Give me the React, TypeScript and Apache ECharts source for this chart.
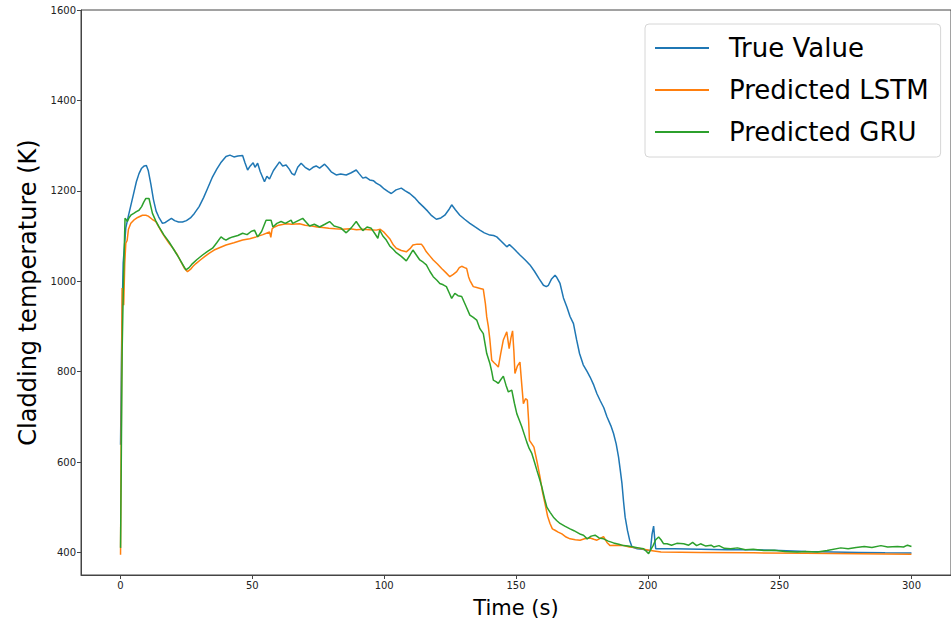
import React, { useEffect, useRef } from "react";
import * as echarts from "echarts";

// [time (s), temperature (K)]
const trueValue: [number, number][] = [
  [0, 638], [0.5, 900], [1, 1040], [2, 1118], [3, 1145], [4, 1170], [5, 1195], [6, 1220], [7, 1238], [8, 1250], [9, 1255], [9.8, 1256],
  [10.5, 1245], [11.5, 1215], [12.5, 1180], [13.5, 1155], [14.5, 1142], [15.9, 1128], [17, 1130], [18, 1134], [19.3, 1139], [20.5, 1134],
  [22, 1131], [23.5, 1131], [25, 1134], [26.5, 1140], [28, 1150], [29.8, 1165], [31.5, 1185], [33, 1205], [34.9, 1231], [36.5, 1248],
  [38, 1262], [40, 1276], [41.5, 1279], [43, 1275], [44.5, 1277], [46.3, 1278], [47.2, 1262], [48.2, 1246], [49.2, 1255], [50.3, 1262],
  [51, 1252], [52, 1261], [53, 1242], [54.6, 1220], [55.5, 1232], [56.5, 1226], [58, 1245], [60.3, 1264], [61.5, 1255], [62.8, 1257],
  [64, 1248], [65, 1238], [66, 1235], [67.2, 1252], [68.5, 1261], [70, 1252], [71.7, 1246], [73, 1252], [74.2, 1255], [75.5, 1250],
  [77.4, 1259], [78.5, 1252], [79.9, 1242], [81.8, 1235], [83.5, 1237], [85.6, 1235], [87.5, 1240], [89.4, 1246], [90.5, 1238],
  [91.9, 1228], [93, 1230], [94.5, 1224], [96, 1222], [97, 1217], [98.5, 1212], [100, 1204], [101.5, 1198], [102.7, 1194],
  [104.5, 1202], [106.5, 1206], [108, 1200], [109.7, 1194], [111.5, 1185], [113, 1175], [114.8, 1165], [116.5, 1155], [118, 1145],
  [119.8, 1137], [121.5, 1140], [123, 1146], [124.5, 1158], [125.6, 1169], [127, 1158], [128.7, 1146], [130.5, 1137], [132.5, 1128],
  [134.5, 1120], [136.3, 1113], [138, 1107], [140.1, 1102], [141.5, 1101], [142.7, 1098], [144.5, 1088], [146.5, 1076], [147.5, 1081],
  [149, 1073], [150.3, 1065], [151.5, 1058], [153.5, 1047], [155.3, 1036], [157, 1022], [158.8, 1005], [160.4, 991], [161.5, 988],
  [162.3, 991], [163.5, 1005], [164.8, 1013], [165.5, 1008], [166.7, 995], [168, 963], [169.3, 943], [170.5, 922], [171.8, 906],
  [173, 870], [174.1, 840], [175.5, 815], [177, 800], [178.1, 788], [179.5, 770], [180.7, 751], [182, 735], [183.3, 720], [184.5, 700],
  [186, 680], [187, 663], [188, 640], [188.9, 611], [189.6, 580], [190.2, 552], [190.8, 512], [191.4, 478], [192.3, 448], [193.1, 427],
  [194, 412], [196, 408], [198, 407], [200, 404], [201, 405], [201.6, 440], [202.2, 458], [202.7, 425], [203, 408], [210, 408],
  [220, 407], [230, 406], [240, 406], [250, 404], [260, 402], [270, 401], [280, 400], [290, 399], [300, 398.5],
];

const predictedLSTM: [number, number][] = [
  [0, 395], [0.3, 700], [0.6, 985], [1.2, 947], [1.6, 1040], [2, 1084], [2.5, 1090], [3, 1115], [3.9, 1128], [5, 1135], [6.5, 1141],
  [8.3, 1146], [9.6, 1146], [10.5, 1144], [12, 1137], [13.4, 1132], [14.5, 1120], [15.9, 1106], [17, 1096], [18.4, 1084], [20, 1072],
  [21.6, 1058], [23, 1042], [24.3, 1028], [25.4, 1021], [26.5, 1026], [27.5, 1033], [28.6, 1039], [30.5, 1048], [32, 1055],
  [33.7, 1062], [35.5, 1069], [37.5, 1074], [40, 1080], [43, 1085], [46.3, 1091], [49, 1094], [51.4, 1098], [54, 1103], [56.5, 1109],
  [57, 1097], [57.5, 1116], [58.4, 1120], [60, 1124], [62.8, 1127], [65, 1126], [67.9, 1127], [70, 1124], [72.5, 1122], [74.5, 1120],
  [76.7, 1119], [79, 1117], [81.5, 1116], [84.3, 1115], [87, 1116], [89.5, 1114], [91.9, 1115], [94.5, 1114], [97, 1113], [98.5, 1115],
  [100, 1108], [102.1, 1094], [103.5, 1080], [104.6, 1073], [106.5, 1068], [108.4, 1065], [109.8, 1072], [110.9, 1080], [112.5, 1082],
  [114.1, 1082], [115, 1075], [116, 1065], [117.3, 1056], [118.6, 1047], [120.2, 1038], [121.8, 1028], [123.4, 1019], [124.9, 1010],
  [126.2, 1015], [127.5, 1021], [128.5, 1030], [129.4, 1033], [130.5, 1030], [131.3, 1028], [132, 1010], [132.5, 1002], [133.8, 988],
  [135.1, 986], [136.4, 984], [137.6, 982], [138.4, 950], [138.9, 921], [139.5, 900], [140.1, 870], [140.8, 825], [141.6, 820],
  [142.5, 815], [143.3, 810], [144.2, 840], [145.2, 870], [146.5, 888], [147.4, 851], [148.1, 875], [148.7, 890], [149.2, 845],
  [149.6, 796], [150.5, 812], [151.5, 821], [152.2, 770], [152.8, 729], [153.6, 740], [154.3, 737], [154.8, 690], [155.1, 648],
  [156, 640], [156.8, 633], [158, 600], [159.1, 567], [160, 535], [161, 508], [162, 480], [162.9, 464], [163.8, 452], [164.8, 449],
  [166, 445], [167.4, 441], [169, 434], [170.5, 430], [172.5, 428], [174.3, 427], [176, 430], [178.1, 432], [179.5, 429], [180.7, 427],
  [182, 431], [183.2, 435], [184.5, 422], [185.7, 415], [188, 416], [190.8, 415], [193, 412], [195.9, 410], [198.5, 407], [201, 404],
  [205, 401], [220, 400], [240, 399], [260, 398], [280, 397], [300, 396],
];

const predictedGRU: [number, number][] = [
  [0, 410], [0.3, 620], [0.6, 844], [1.1, 1000], [1.7, 1139], [2.2, 1136], [2.6, 1132], [3.2, 1140], [3.9, 1146], [5, 1150], [6, 1154],
  [7, 1157], [8, 1165], [8.8, 1175], [9.6, 1183], [10.8, 1183], [11.5, 1165], [12.1, 1150], [13.4, 1133], [14.6, 1120], [16.5, 1102],
  [18.4, 1087], [20.3, 1069], [22.2, 1051], [23.5, 1038], [24.8, 1025], [26, 1030], [27.3, 1039], [29, 1048], [31.1, 1058], [33, 1066],
  [34.9, 1073], [36.5, 1085], [38.1, 1098], [39, 1094], [40, 1091], [41.2, 1095], [42.5, 1098], [44.5, 1101], [46.3, 1106], [48, 1103],
  [49.5, 1110], [50.8, 1113], [52, 1098], [53.5, 1110], [55.2, 1135], [57.1, 1135], [57.8, 1120], [59.3, 1128], [60.9, 1132],
  [62.5, 1128], [64.7, 1135], [65.3, 1128], [67, 1133], [69.1, 1139], [70.5, 1130], [71.7, 1122], [73.5, 1126], [75.5, 1120],
  [77.5, 1126], [79.3, 1132], [81, 1122], [83.5, 1118], [85.6, 1107], [87.5, 1118], [89.4, 1132], [90.8, 1120], [91.9, 1112],
  [93.5, 1120], [95.1, 1117], [96.5, 1105], [97.6, 1095], [98.3, 1113], [99.5, 1100], [100.8, 1091], [102.1, 1078], [103.5, 1070],
  [104.6, 1063], [106.5, 1055], [108.4, 1045], [109.8, 1058], [110.9, 1069], [112.2, 1058], [113.5, 1047], [114.8, 1042], [116, 1036],
  [117.3, 1022], [118.6, 1010], [120, 1002], [121.1, 995], [122.4, 992], [123.6, 988], [124.6, 975], [125.6, 962], [126.8, 973],
  [128, 968], [129.4, 966], [131, 945], [132.5, 925], [133.8, 920], [135.1, 914], [136.3, 895], [137.6, 884], [138.9, 840],
  [140.1, 818], [140.8, 800], [141.4, 781], [142.4, 778], [143.3, 774], [144.2, 782], [145.2, 790], [146.2, 770], [147.1, 755],
  [148.4, 759], [149.4, 730], [150.3, 707], [151.3, 692], [152.2, 678], [153.2, 660], [154.1, 644], [155, 630], [156, 619], [157, 600],
  [157.9, 582], [158.8, 565], [159.8, 545], [160.8, 520], [161.7, 500], [163, 488], [164.2, 478], [165.5, 470], [166.7, 464],
  [168.5, 458], [170.5, 452], [172, 448], [173, 445], [174.5, 440], [175.6, 438], [177, 430], [178.5, 436], [180, 438], [181.5, 432],
  [183.2, 430], [185, 425], [187, 421], [189, 418], [190.8, 415], [192.5, 414], [194.6, 412], [196.5, 410], [198.4, 408], [199.5, 402],
  [200.3, 397], [201, 405], [202, 415], [203, 428], [204.1, 434], [205, 428], [206, 419], [207.3, 419], [209, 416], [211, 420],
  [213.6, 419], [215.5, 416], [217, 422], [218.5, 415], [220, 419], [222, 414], [224, 416], [225, 412], [227, 415], [229, 409],
  [231.4, 408], [234, 410], [237, 406], [240, 407], [244, 404], [248, 405], [252, 402], [256.7, 401], [260, 402], [264.3, 401],
  [268, 404], [273.2, 410], [276, 408], [279, 411], [282.1, 413], [285, 411], [288.4, 415], [291, 412], [294.7, 413], [297, 412],
  [298.5, 416], [300, 413],
];

const xTicks = [0, 50, 100, 150, 200, 250, 300];
const yTicks = [400, 600, 800, 1000, 1200, 1400, 1600];
const seriesNames = ["True Value", "Predicted LSTM", "Predicted GRU"];
const colors = ["#1f77b4", "#ff7f0e", "#2ca02c"];

const FONT = "DejaVu Sans";

export default function App() {
  const ref = useRef<HTMLDivElement>(null);
  useEffect(() => {
    if (!ref.current) return;
    const chart = echarts.init(ref.current, undefined, { renderer: "svg" });
    const datasets = [trueValue, predictedLSTM, predictedGRU];
    chart.setOption({
      animation: false,
      backgroundColor: "#ffffff",
      color: colors,
      grid: {
        left: 81,
        right: 0,
        top: 10,
        bottom: 52,
        show: true,
        borderColor: "#444",
        borderWidth: 1,
      },
      legend: {
        left: 645,
        top: 24,
        orient: "vertical",
        icon: "rect",
        itemWidth: 54,
        itemHeight: 2,
        itemGap: 10,
        padding: [8, 12, 9, 10],
        borderColor: "#d6d6d6",
        borderWidth: 1,
        borderRadius: 4,
        backgroundColor: "rgba(255,255,255,0.8)",
        textStyle: {
          fontFamily: FONT,
          fontSize: 26,
          color: "#000",
          lineHeight: 32,
          padding: [0, 0, 0, 15],
        },
        data: seriesNames,
      },
      xAxis: {
        type: "value",
        min: -15,
        max: 315,
        name: "Time (s)",
        nameLocation: "middle",
        nameGap: 22,
        nameTextStyle: { fontFamily: FONT, fontSize: 21, color: "#000" },
        axisLine: { show: true, onZero: false, lineStyle: { color: "#444", width: 1 } },
        axisTick: { show: true, length: 4, lineStyle: { color: "#444" }, customValues: xTicks },
        axisLabel: {
          fontFamily: FONT, fontSize: 10, color: "#222", margin: 5, customValues: xTicks,
          formatter: (v: number) => String(v),
        },
        splitLine: { show: false },
      },
      yAxis: {
        type: "value",
        min: 350,
        max: 1600,
        name: "Cladding temperature (K)",
        nameLocation: "middle",
        nameGap: 33,
        nameTextStyle: { fontFamily: FONT, fontSize: 24, color: "#000" },
        axisLine: { show: true, onZero: false, lineStyle: { color: "#444", width: 1 } },
        axisTick: { show: true, length: 4, lineStyle: { color: "#444" }, customValues: yTicks },
        axisLabel: {
          fontFamily: FONT, fontSize: 10, color: "#222", margin: 5, customValues: yTicks,
          formatter: (v: number) => String(v),
        },
        splitLine: { show: false },
      },
      series: seriesNames.map((name, i) => ({
        name,
        type: "line",
        data: datasets[i],
        showSymbol: false,
        symbol: "none",
        lineStyle: { width: 1.5, color: colors[i] },
        itemStyle: { color: colors[i] },
        z: i === 0 ? 2 : i === 1 ? 3 : 4,
      })),
    });
    return () => chart.dispose();
  }, []);
  return (
    <div
      ref={ref}
      style={{ position: "absolute", left: 0, top: 0, width: 951, height: 627 }}
    />
  );
}
